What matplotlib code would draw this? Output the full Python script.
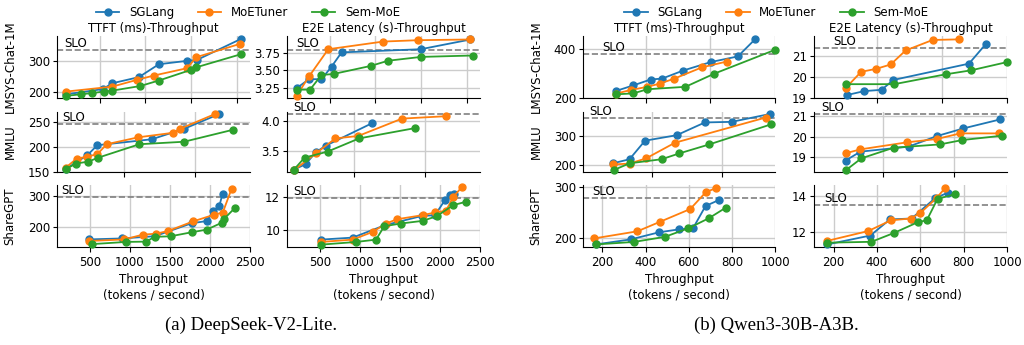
import matplotlib

matplotlib.use("Agg")
import matplotlib.pyplot as plt
import matplotlib.transforms as mtransforms

plt.rcParams["font.family"] = ["DejaVu Sans"]
plt.rcParams["font.size"] = 8.5

SYSTEMS = ["SGLang", "MoETuner", "Sem-MoE"]
COLORS = ["#1f77b4", "#ff7f0e", "#2ca02c"]
DATASETS = ["LMSYS-Chat-1M", "MMLU", "ShareGPT"]
METRICS = ["TTFT (ms)-Throughput", "E2E Latency (s)-Throughput"]

# ---- DeepSeek-V2-Lite ----
DS_LMSYS_TTFT = {
    "SGLang": ([136, 536, 639, 930, 1149, 1456, 1565, 2050],
               [191, 208, 227, 247, 289, 300, 303, 372]),
    "MoETuner": ([136, 639, 908, 1091, 1456, 1558, 2032],
                 [200, 216, 238, 252, 276, 312, 355]),
    "Sem-MoE": ([136, 292, 420, 544, 639, 945, 1149, 1503, 1558, 2050],
                [186, 191, 195, 200, 203, 218, 236, 271, 279, 322]),
}
DS_LMSYS_E2E = {
    "SGLang": ([139, 276, 412, 522, 632, 1497, 2041],
               [3.24, 3.37, 3.37, 3.55, 3.755, 3.80, 3.94]),
    "MoETuner": ([139, 276, 486, 1085, 1471, 2041],
                 [3.13, 3.41, 3.80, 3.91, 3.93, 3.94]),
    "Sem-MoE": ([139, 287, 412, 544, 949, 1140, 1501, 2067],
                [3.22, 3.22, 3.43, 3.445, 3.56, 3.635, 3.69, 3.71]),
}
DS_MMLU_TTFT = {
    "SGLang": ([90, 242, 312, 695, 922, 1171],
               [155, 183, 203, 215, 236, 266]),
    "MoETuner": ([90, 167, 242, 312, 378, 601, 843, 894, 1141],
                 [158, 176, 180, 185, 205, 219, 228, 236, 266]),
    "Sem-MoE": ([90, 162, 249, 319, 608, 922, 1265],
                [155, 166, 170, 178, 205, 210, 234]),
}
DS_MMLU_E2E = {
    "SGLang": ([77, 159, 231, 302, 624],
               [3.19, 3.28, 3.48, 3.59, 3.96]),
    "MoETuner": ([77, 231, 369, 529, 838, 1148],
                 [3.18, 3.46, 3.71, 3.75, 4.04, 4.08]),
    "Sem-MoE": ([77, 152, 314, 536, 926],
                [3.19, 3.39, 3.49, 3.71, 3.88]),
}
DS_SHARE_TTFT = {
    "SGLang": ([492, 896, 1310, 1770, 1958, 2041, 2116, 2158],
               [162, 165, 172, 213, 220, 252, 267, 307]),
    "MoETuner": ([492, 930, 1160, 1320, 1470, 1790, 2050, 2160, 2270],
                 [157, 162, 177, 180, 188, 219, 240, 247, 322]),
    "Sem-MoE": ([520, 950, 1200, 1310, 1510, 1780, 1960, 2150, 2180, 2310],
                [147, 154, 155, 170, 172, 185, 193, 215, 228, 261]),
}
DS_SHARE_E2E = {
    "SGLang": ([510, 909, 1312, 1771, 1938, 2062, 2125, 2176],
               [9.44, 9.56, 10.3, 10.85, 10.9, 11.8, 12.1, 12.16]),
    "MoETuner": ([510, 909, 1159, 1325, 1466, 1784, 1938, 2075, 2167, 2271],
                 [9.3, 9.44, 9.9, 10.4, 10.66, 10.9, 11.06, 11.16, 12.0, 12.56]),
    "Sem-MoE": ([510, 951, 1201, 1304, 1509, 1784, 1959, 2167, 2325],
                [9.14, 9.3, 9.44, 10.24, 10.4, 10.56, 10.84, 11.5, 11.7]),
}

# ---- Qwen3-30B-A3B ----
QW_LMSYS_TTFT = {
    "SGLang": ([508, 562, 615, 651, 716, 802, 885, 938],
               [227, 250, 274, 278, 311, 346, 369, 439]),
    "MoETuner": ([508, 554, 605, 643, 689, 774, 851],
                 [216, 231, 244, 257, 278, 324, 348]),
    "Sem-MoE": ([508, 562, 605, 723, 812, 1000],
                [213, 217, 234, 244, 298, 396]),
}
QW_LMSYS_E2E = {
    "SGLang": ([507, 561, 614, 650, 883, 935],
               [19.12, 19.31, 19.37, 19.84, 20.62, 21.56]),
    "MoETuner": ([505, 551, 597, 642, 688, 771, 852],
                 [19.48, 20.23, 20.37, 20.58, 21.25, 21.75, 21.78]),
    "Sem-MoE": ([505, 653, 811, 889, 999],
                [19.64, 19.64, 20.11, 20.30, 20.69]),
}
QW_MMLU_TTFT = {
    "SGLang": ([490, 537, 581, 671, 751, 827, 935],
               [206, 220, 284, 303, 347, 349, 376]),
    "MoETuner": ([490, 537, 584, 666, 924],
                 [202, 205, 223, 277, 364]),
    "Sem-MoE": ([493, 537, 628, 678, 763, 938],
                [183, 206, 220, 240, 271, 340]),
}
QW_MMLU_E2E = {
    "SGLang": ([494, 536, 672, 752, 827, 930],
               [18.85, 19.28, 19.52, 20.03, 20.4, 20.83]),
    "MoETuner": ([494, 536, 668, 752, 818, 926],
                 [19.2, 19.39, 19.73, 19.89, 20.16, 20.16]),
    "Sem-MoE": ([496, 539, 630, 761, 824, 937],
                [18.4, 18.96, 19.47, 19.63, 19.84, 20.05]),
}
QW_SHARE_TTFT = {
    "SGLang": ([168, 331, 462, 557, 620, 678, 741],
               [187, 197, 211, 217, 219, 263, 275]),
    "MoETuner": ([162, 362, 468, 607, 681, 726],
                 [199, 213, 232, 257, 291, 298]),
    "Sem-MoE": ([168, 346, 489, 599, 694, 773],
                [187, 192, 202, 219, 239, 260]),
}
QW_SHARE_E2E = {
    "SGLang": ([170, 370, 460, 560, 670, 730],
               [11.3, 11.8, 12.7, 12.75, 13.9, 14.2]),
    "MoETuner": ([170, 360, 465, 555, 600, 675, 715],
                 [11.5, 12.05, 12.65, 12.75, 13.05, 13.9, 14.45]),
    "Sem-MoE": ([170, 375, 480, 590, 630, 680, 760],
                [11.4, 11.45, 11.95, 12.55, 12.65, 13.85, 14.1]),
}

# SLO thresholds per row: (TTFT, E2E)
DS_SLO = [(336, 3.79), (246, 4.117), (295, 11.9)]
QW_SLO = [(380, 21.36), (364, 21.09), (278, 13.5)]

DS_YTICKS = [([200, 300], [3.25, 3.50, 3.75]), ([150, 200, 250], [3.5, 4.0]), ([200, 300], [10, 12])]
DS_YLABELS = [(["200", "300"], ["3.25", "3.50", "3.75"]), (["150", "200", "250"], ["3.5", "4.0"]),
              (["200", "300"], ["10", "12"])]
QW_YTICKS = [([200, 400], [19, 20, 21]), ([200, 300], [19, 20, 21]), ([200, 300], [12, 14])]
QW_YLABELS = [(["200", "400"], ["19", "20", "21"]), (["200", "300"], ["19", "20", "21"]),
              (["200", "300"], ["12", "14"])]

DS_XTICKS = [[500, 1000, 1500, 2000], [500, 1000], [500, 1000, 1500, 2000, 2500]]
QW_XTICKS = [[600, 800, 1000], [600, 800], [200, 400, 600, 800, 1000]]

# ---- layout (pixels on a 1024x345 canvas) ----
W, H = 1024, 345
DS_XLIM = [(35, 2145), (28, 1387), (89, 2500)]
QW_XLIM = [(406, 1000), (405, 950), (110, 1000)]
DS_YLIM = [((179, 381), (3.10, 3.99)), ((149, 270), (3.15, 4.15)), ((138, 334), (9.0, 12.7))]
QW_YLIM = [((198, 453), (18.98, 21.94)), ((176, 383), (18.3, 21.19)), ((182, 304.5), (11.16, 14.62))]
DS_SLO_X = [(0.04, 0.05), (0.025, 0.03), (0.02, 0.03)]
QW_SLO_X = [(0.10, 0.10), (0.035, 0.04), (0.05, 0.055)]
ROWS_PX = [(36, 98), (112, 172), (185, 247)]
DS_COLS_PX = [(57, 193), (287, 193)]
QW_COLS_PX = [(583, 192), (814, 193)]

fig = plt.figure(figsize=(W / 100, H / 100), dpi=100)


def draw_group(panels, slos, yticks, ylabels, xticks, xlims, ylims, slo_xs, cols_px):
    first_ax = None
    for r, row in enumerate(panels):
        top, bottom = ROWS_PX[r]
        for c, series in enumerate(row):
            left, width = cols_px[c]
            ax = fig.add_axes([left / W, 1 - bottom / H, width / W, (bottom - top) / H])
            if first_ax is None:
                first_ax = ax
            for name, color in zip(SYSTEMS, COLORS):
                xs, ys = series[name]
                ax.plot(xs, ys, marker="o", color=color, lw=1.3, ms=5,
                        label=name, clip_on=False, zorder=3)
            ax.axhline(slos[r][c], color="#808080", ls="--", lw=1.2, zorder=2)
            trans = mtransforms.blended_transform_factory(ax.transAxes, ax.transData)
            ax.text(slo_xs[r][c], slos[r][c], "SLO", transform=trans,
                    ha="left", va="bottom", fontsize=8.5)
            ax.set_xlim(*xlims[r])
            ax.set_ylim(*ylims[r][c])
            ax.set_xticks(xticks[r])
            ax.set_yticks(yticks[r][c])
            ax.set_yticklabels(ylabels[r][c])
            ax.grid(True, color="#cccccc", lw=1.0)
            ax.set_axisbelow(True)
            for side in ("top", "right"):
                ax.spines[side].set_visible(False)
            ax.tick_params(axis="y", length=3, pad=2, labelsize=8.5)
            ax.tick_params(axis="x", length=3.5, pad=3, labelsize=8.5)
            if r == 0:
                ax.set_title(METRICS[c], fontsize=8.5, pad=3)
            if r < 2:
                ax.tick_params(axis="x", labelbottom=False)
            else:
                ax.set_xlabel("Throughput\n(tokens / second)", fontsize=8.5, labelpad=3)
            if c == 0:
                ax.set_ylabel(DATASETS[r], fontsize=8.5)
                ax.yaxis.set_label_coords(-0.21, 0.5)
    return first_ax


ds_ax = draw_group(
    [[DS_LMSYS_TTFT, DS_LMSYS_E2E], [DS_MMLU_TTFT, DS_MMLU_E2E], [DS_SHARE_TTFT, DS_SHARE_E2E]],
    DS_SLO, DS_YTICKS, DS_YLABELS, DS_XTICKS, DS_XLIM, DS_YLIM, DS_SLO_X, DS_COLS_PX)
qw_ax = draw_group(
    [[QW_LMSYS_TTFT, QW_LMSYS_E2E], [QW_MMLU_TTFT, QW_MMLU_E2E], [QW_SHARE_TTFT, QW_SHARE_E2E]],
    QW_SLO, QW_YTICKS, QW_YLABELS, QW_XTICKS, QW_XLIM, QW_YLIM, QW_SLO_X, QW_COLS_PX)

for ax, cx in ((ds_ax, 0.242), (qw_ax, 0.758)):
    handles, labels = ax.get_legend_handles_labels()
    fig.legend(handles, labels, loc="center", bbox_to_anchor=(cx, 0.963), ncol=3,
               frameon=False, fontsize=8.5, handlelength=2.0, columnspacing=2.0,
               borderaxespad=0, borderpad=0)

fig.text(0.245, 0.058, "(a) DeepSeek-V2-Lite.", ha="center", va="center",
         family=["Liberation Serif", "DejaVu Serif"], fontsize=13.5)
fig.text(0.758, 0.058, "(b) Qwen3-30B-A3B.", ha="center", va="center",
         family=["Liberation Serif", "DejaVu Serif"], fontsize=13.5)

fig.savefig("out.png", dpi=100)
